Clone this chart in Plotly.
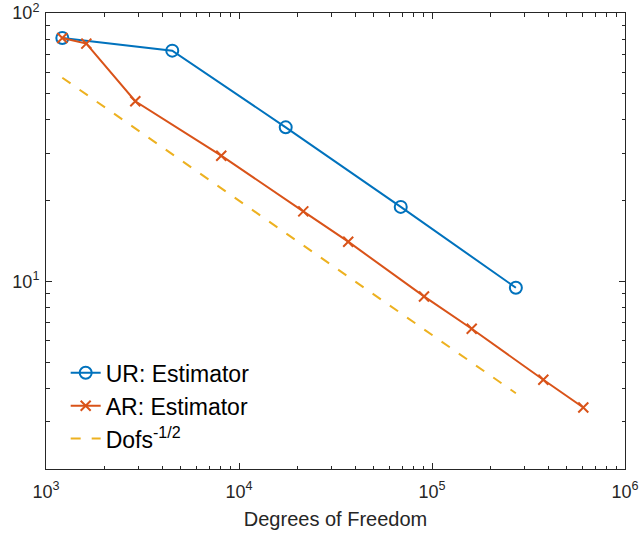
import plotly.graph_objects as go

# Convergence history: estimator value vs. number of degrees of freedom
ur_dofs = [1215, 4510, 17460, 68870, 272000]
ur_est = [80.7, 72.4, 37.5, 18.95, 9.47]

ar_dofs = [1215, 1618, 2902, 8091, 21530, 36800, 90900, 160600, 377400, 608000]
ar_est = [80.7, 76.9, 46.9, 29.4, 18.24, 14.06, 8.79, 6.66, 4.30, 3.39]

# Reference slope Dofs^(-1/2), sampled at the uniform-refinement dofs
rate_dofs = [1215, 4510, 17460, 68870, 272000]
rate_vals = [57.4, 29.8, 15.1, 7.62, 3.83]

x_tick_vals = [1e3, 1e4, 1e5, 1e6]
x_tick_text = ["10<sup>3</sup>", "10<sup>4</sup>", "10<sup>5</sup>", "10<sup>6</sup>"]
y_tick_vals = [10, 100]
y_tick_text = ["10<sup>1</sup>", "10<sup>2</sup>"]

BLUE = "#0072BD"
ORANGE = "#D95319"
YELLOW = "#EDB120"
AXIS = "#262626"
FONT = "Liberation Sans, Arial, Helvetica, sans-serif"

x_minor = [m * 10 ** e for e in (3, 4, 5) for m in range(2, 10)]
y_minor = [m * 10 ** e for e in (0, 1) for m in range(2, 10)]

fig = go.Figure()
fig.add_trace(go.Scatter(
    x=ur_dofs, y=ur_est, name="UR: Estimator", mode="lines+markers",
    line=dict(color=BLUE, width=2),
    marker=dict(symbol="circle-open", size=12, color=BLUE, line=dict(width=2, color=BLUE)),
))
fig.add_trace(go.Scatter(
    x=ar_dofs, y=ar_est, name="AR: Estimator", mode="lines+markers",
    line=dict(color=ORANGE, width=2),
    marker=dict(symbol="x-thin", size=10, color=ORANGE, line=dict(width=2, color=ORANGE)),
))
fig.add_trace(go.Scatter(
    x=rate_dofs, y=rate_vals, name="Dofs<sup>-1/2</sup>", mode="lines",
    line=dict(color=YELLOW, width=2, dash="10px,11px"),
))

axis_common = dict(
    type="log", showgrid=False, zeroline=False, automargin=False,
    showline=True, linecolor=AXIS, linewidth=1, mirror="ticks",
    ticks="inside", ticklen=6, tickwidth=1, tickcolor=AXIS,
    tickmode="array", tickfont=dict(family=FONT, size=18, color=AXIS),
)

fig.update_xaxes(
    **axis_common, range=[3, 6],
    tickvals=x_tick_vals, ticktext=x_tick_text, ticklabelstandoff=6,
    minor=dict(ticks="inside", ticklen=3.5, tickcolor=AXIS, tickvals=x_minor, showgrid=False),
    title=dict(text="Degrees of Freedom", font=dict(family=FONT, size=20, color=AXIS), standoff=11),
)
fig.update_yaxes(
    **axis_common, range=[0.30103, 2],
    tickvals=y_tick_vals, ticktext=y_tick_text, ticklabelstandoff=2,
    minor=dict(ticks="inside", ticklen=3.5, tickcolor=AXIS, tickvals=y_minor, showgrid=False),
)

fig.update_layout(
    width=639, height=533,
    margin=dict(l=46, r=14, t=13, b=64),
    paper_bgcolor="white", plot_bgcolor="white",
    font=dict(family=FONT, color=AXIS),
    legend=dict(
        x=0.034, y=0.258, xanchor="left", yanchor="top",
        bgcolor="rgba(0,0,0,0)", borderwidth=0,
        font=dict(family=FONT, size=23, color="#000000"),
        tracegroupgap=0,
    ),
)

fig.write_html("out.html")
